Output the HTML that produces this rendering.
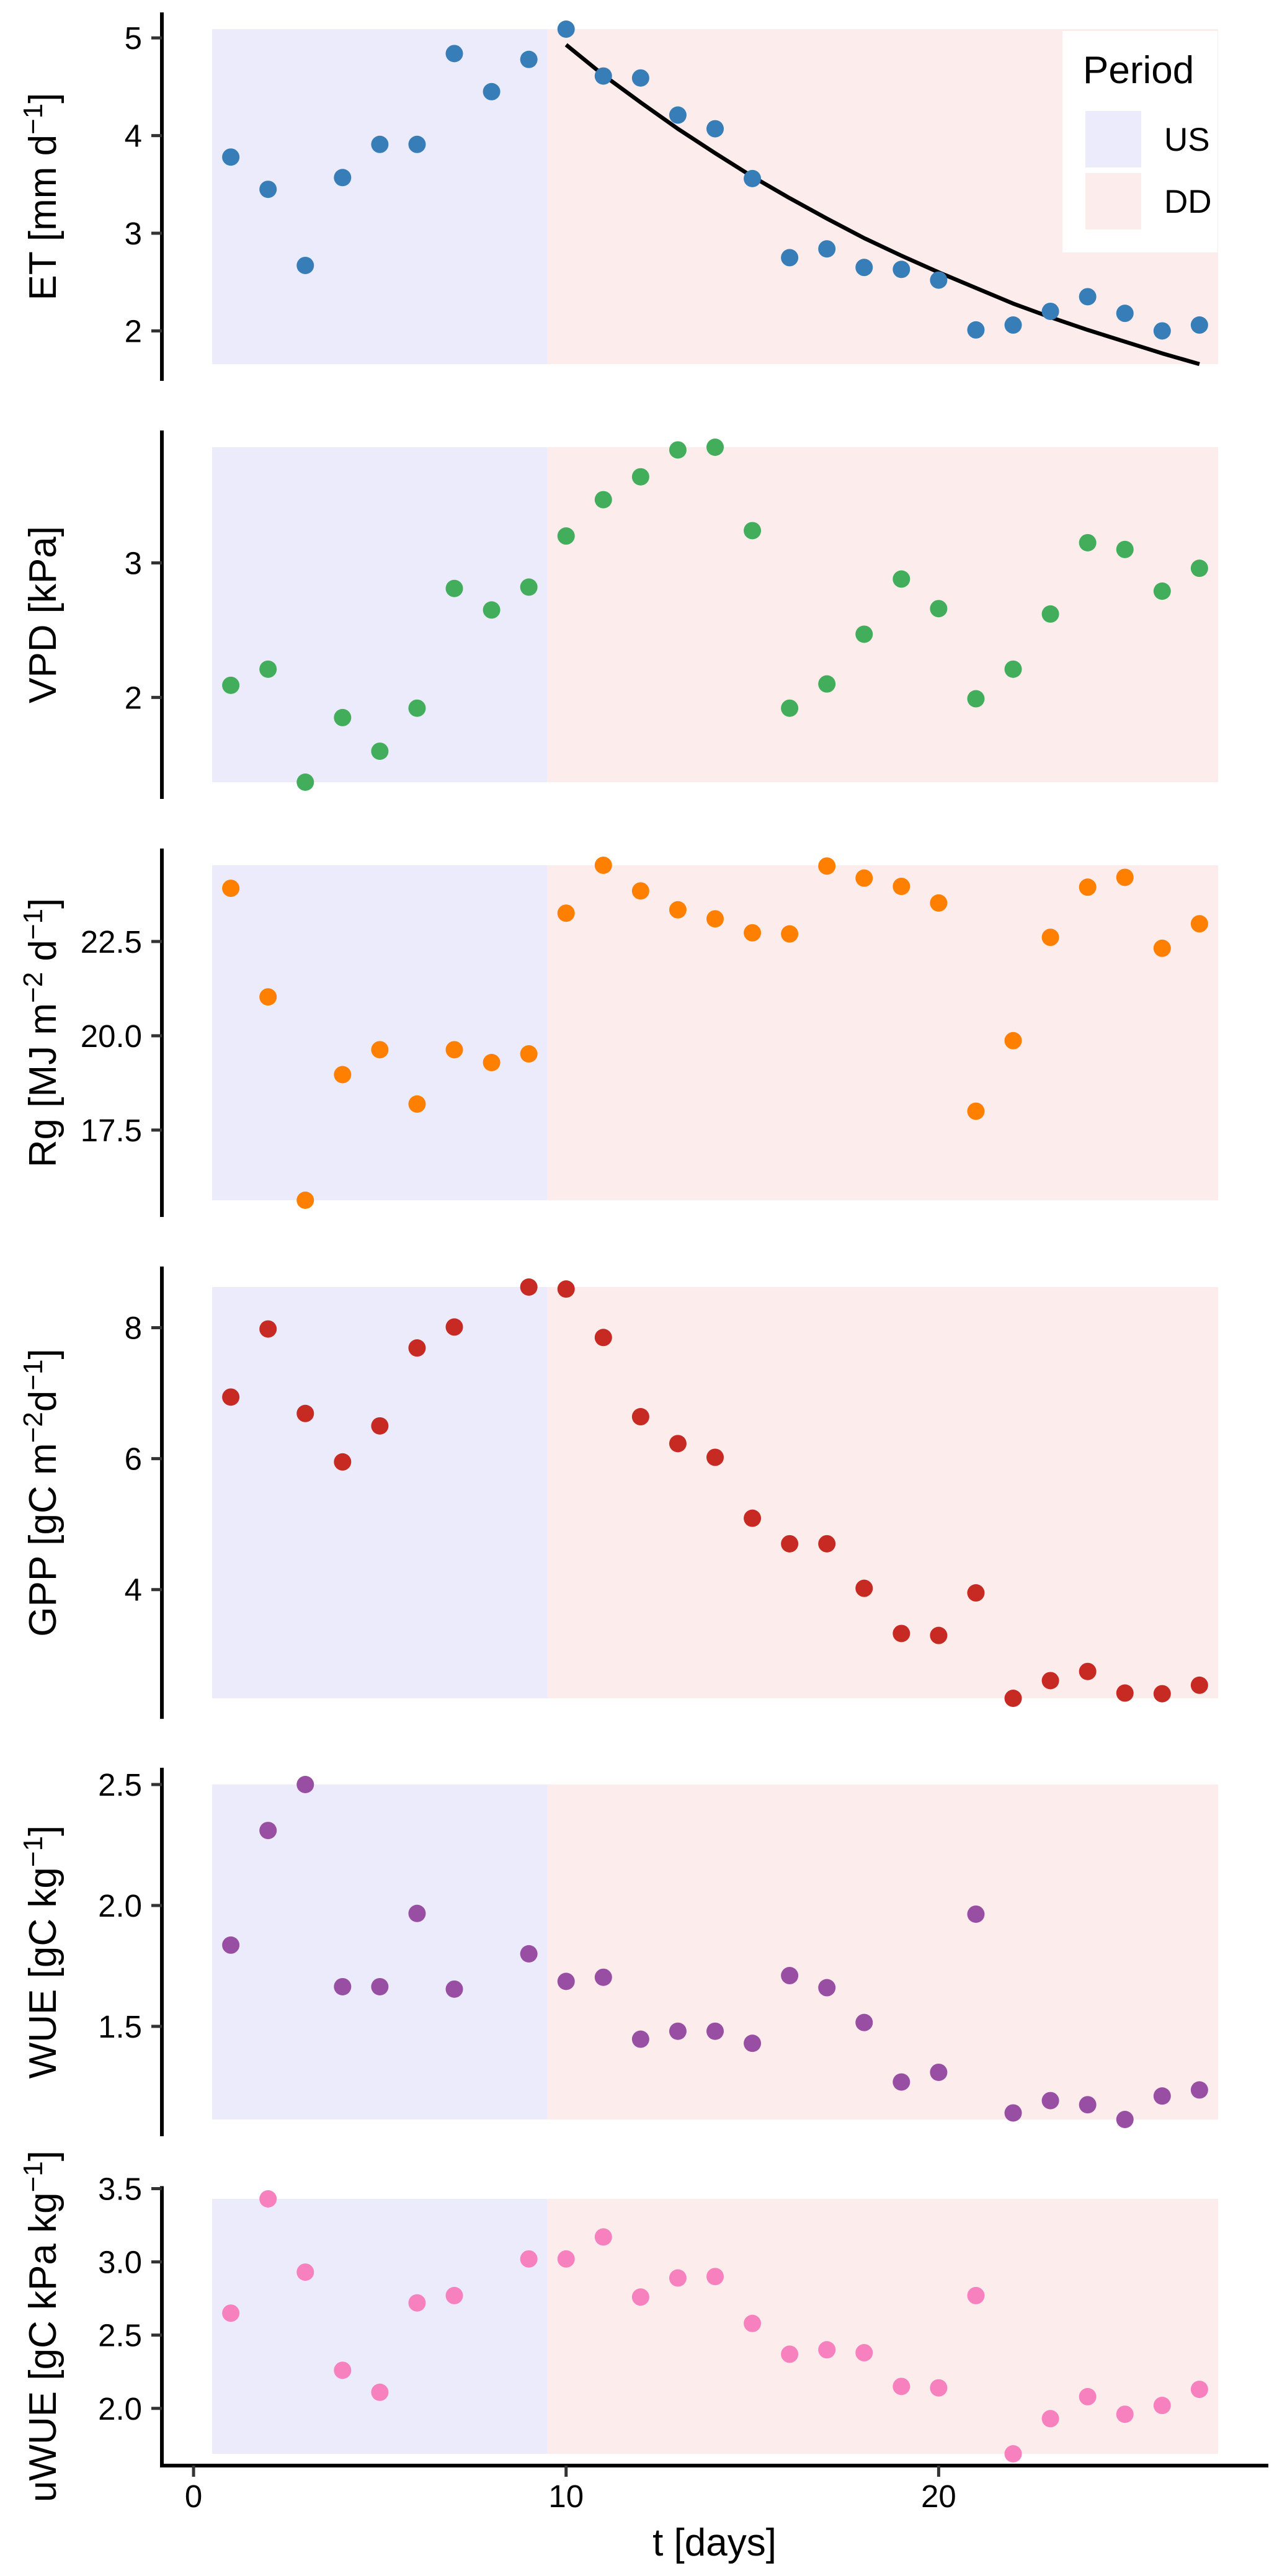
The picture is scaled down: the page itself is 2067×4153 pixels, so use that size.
<!DOCTYPE html>
<html><head><meta charset="utf-8">
<style>
html,body{margin:0;padding:0;background:#fff;}
svg{display:block;font-family:"Liberation Sans",Arial,sans-serif;}
</style></head>
<body>
<svg id="chart" width="2067" height="4153" viewBox="0 0 2067 4153" xmlns="http://www.w3.org/2000/svg"></svg>
<script>
const days = [1,2,3,4,5,6,7,8,9,10,11,12,13,14,15,16,17,18,19,20,21,22,23,24,25,26,27];
const etVals = [3.78,3.45,2.67,3.57,3.91,3.91,4.84,4.45,4.78,5.09,4.61,4.59,4.21,4.07,3.56,2.75,2.84,2.65,2.63,2.52,2.01,2.06,2.20,2.35,2.18,2.00,2.06];
const etFitDays = [10,11,12,13,14,15,16,17,18,19,20,21,22,23,24,25,26,27];
const etFitVals = [4.93,4.62,4.34,4.07,3.82,3.58,3.36,3.15,2.95,2.77,2.60,2.44,2.28,2.14,2.01,1.89,1.77,1.66];
const vpdVals = [2.09,2.21,1.37,1.85,1.60,1.92,2.81,2.65,2.82,3.20,3.47,3.64,3.84,3.86,3.24,1.92,2.10,2.47,2.88,2.66,1.99,2.21,2.62,3.15,3.10,2.79,2.96];
const rgVals = [23.91,21.03,15.64,18.97,19.63,18.19,19.63,19.29,19.52,23.25,24.52,23.84,23.34,23.10,22.73,22.70,24.50,24.18,23.96,23.52,18.00,19.87,22.61,23.94,24.20,22.32,22.97];
const gppVals = [6.94,7.98,6.69,5.95,6.50,7.69,8.01,null,8.62,8.59,7.85,6.64,6.23,6.02,5.09,4.70,4.70,4.02,3.33,3.30,3.95,2.34,2.61,2.75,2.42,2.41,2.54];
const wueVals = [1.836,2.31,2.50,1.664,1.664,1.967,1.654,null,1.80,1.686,1.703,1.447,1.48,1.48,1.43,1.71,1.66,1.516,1.27,1.31,1.964,1.142,1.193,1.176,1.115,1.212,1.237];
const uwueVals = [2.65,3.43,2.93,2.26,2.11,2.72,2.77,null,3.02,3.02,3.17,2.76,2.89,2.90,2.58,2.37,2.40,2.38,2.15,2.14,2.77,1.69,1.93,2.08,1.96,2.02,2.13];
const etTicks = [2,3,4,5];
const etTickLabels = ["2","3","4","5"];
const vpdTicks = [2,3];
const vpdTickLabels = ["2","3"];
const rgTicks = [17.5,20,22.5];
const rgTickLabels = ["17.5","20.0","22.5"];
const gppTicks = [4,6,8];
const gppTickLabels = ["4","6","8"];
const wueTicks = [1.5,2.0,2.5];
const wueTickLabels = ["1.5","2.0","2.5"];
const uwueTicks = [2.0,2.5,3.0,3.5];
const uwueTickLabels = ["2.0","2.5","3.0","3.5"];
const xTicks = [0,10,20];
const xTickLabels = ["0","10","20"];
const periodNames = ["US","DD"];
const periodStart = [0.5,9.5];
const periodEnd = [9.5,27.5];

const NS = "http://www.w3.org/2000/svg";
const svg = document.getElementById("chart");
function mk(tag, attrs, parent){
  const e = document.createElementNS(NS, tag);
  for (const k in attrs) e.setAttribute(k, attrs[k]);
  (parent||svg).appendChild(e);
  return e;
}
const periodFill = ["#EBEBFB","#FDECEC"];
// x axis: data range plus 5% expansion
const xMin = Math.min(...periodStart), xMax = Math.max(...periodEnd);
const xPad = (xMax - xMin) * 0.05;
const X0 = 261, X1 = 2045;
function xs(d){ return X0 + (d - (xMin - xPad)) / ((xMax + xPad) - (xMin - xPad)) * (X1 - X0); }

const panels = [
  {key:"et", vals:etVals, extra:etFitVals, color:"#377EB8", ticks:etTicks, labels:etTickLabels, top:47, bot:587, title:[["ET [mm d",0],["−1",1],["]",0]]},
  {key:"vpd", vals:vpdVals, extra:[], color:"#42AD5B", ticks:vpdTicks, labels:vpdTickLabels, top:721, bot:1261, title:[["VPD [kPa]",0]]},
  {key:"rg", vals:rgVals, extra:[], color:"#FF7F00", ticks:rgTicks, labels:rgTickLabels, top:1395, bot:1935, title:[["Rg [MJ m",0],["−2",1],[" d",0],["−1",1],["]",0]]},
  {key:"gpp", vals:gppVals, extra:[], color:"#C62A23", ticks:gppTicks, labels:gppTickLabels, top:2075, bot:2738, title:[["GPP [gC m",0],["−2",1],["d",0],["−1",1],["]",0]]},
  {key:"wue", vals:wueVals, extra:[], color:"#984EA3", ticks:wueTicks, labels:wueTickLabels, top:2877, bot:3417, title:[["WUE [gC kg",0],["−1",1],["]",0]]},
  {key:"uwue", vals:uwueVals, extra:[], color:"#F781BF", ticks:uwueTicks, labels:uwueTickLabels, top:3545, bot:3956, title:[["uWUE [gC kPa kg",0],["−1",1],["]",0]]}
];

panels.forEach((p, pi) => {
  const g = mk("g", {});
  
  
  const all = p.vals.concat(p.extra).filter(v => v !== null);
  const vMin = Math.min(...all), vMax = Math.max(...all);
  const ys = v => p.bot - (v - vMin) / (vMax - vMin) * (p.bot - p.top);
  const pad = (p.bot - p.top) * 0.05;
  // period backgrounds
  periodNames.forEach((nm, i) => {
    const r = mk("rect", {x: xs(periodStart[i]), y: p.top, width: xs(periodEnd[i]) - xs(periodStart[i]), height: p.bot - p.top, fill: periodFill[i]}, g);
    
    
  });
  // y axis line
  const isLast = pi === panels.length - 1;
  const ax = mk("line", {x1: X0, y1: p.top - pad, x2: X0, y2: isLast ? 3978 : p.bot + pad, stroke: "#000", "stroke-width": 6}, g);
  
  
  // ticks
  p.ticks.forEach((t, i) => {
    const y = ys(t);
    const tk = mk("line", {x1: X0 - 17, y1: y, x2: X0, y2: y, stroke: "#333", "stroke-width": 5}, g);
    
    
    const tl = mk("text", {x: 229, y: y + 18, "text-anchor": "end", "font-size": 51, fill: "#000"}, g);
    tl.textContent = p.labels[i];
    
    
  });
  // title
  const cy = (p.top + p.bot) / 2;
  const tt = mk("text", {x: 0, y: 0, "text-anchor": "middle", "font-size": 62, fill: "#000", transform: "translate(90," + cy + ") rotate(-90)"}, g);
  
  
  let up = false;
  p.title.forEach(([txt, sup]) => {
    const ts = mk("tspan", {}, tt);
    if (sup && !up) { ts.setAttribute("dy", -22); ts.setAttribute("font-size", 44); up = true; }
    else if (sup) { ts.setAttribute("font-size", 44); }
    else if (!sup && up) { ts.setAttribute("dy", 22); up = false; }
    ts.textContent = txt;
  });
  // fit curve
  if (p.key === "et") {
    const d = etFitDays.map((dd, i) => (i ? "L" : "M") + xs(dd).toFixed(1) + "," + ys(etFitVals[i]).toFixed(1)).join(" ");
    const path = mk("path", {d: d, fill: "none", stroke: "#000", "stroke-width": 6.5, "stroke-linejoin": "round"}, g);
    
    
  }
  // points
  p.vals.forEach((v, i) => {
    if (v === null) return;
    const c = mk("circle", {cx: xs(days[i]), cy: ys(v), r: 14, fill: p.color}, g);
    
    
  });
});

// x axis
const xa = mk("line", {x1: X0 - 3, y1: 3975, x2: X1, y2: 3975, stroke: "#000", "stroke-width": 6});


xTicks.forEach((t, i) => {
  const tk = mk("line", {x1: xs(t), y1: 3975, x2: xs(t), y2: 3993, stroke: "#333", "stroke-width": 5});
  
  
  const tl = mk("text", {x: xs(t), y: 4042, "text-anchor": "middle", "font-size": 51, fill: "#000"});
  tl.textContent = xTickLabels[i];
  
  
});
const xt = mk("text", {x: 1152, y: 4120, "text-anchor": "middle", "font-size": 62, fill: "#000"});
xt.textContent = "t [days]";



// legend
const lg = mk("g", {});


mk("rect", {x: 1713, y: 50, width: 250, height: 357, fill: "#fff"}, lg);
const lt = mk("text", {x: 1746, y: 134, "font-size": 62, fill: "#000"}, lg);
lt.textContent = "Period";


periodNames.forEach((nm, i) => {
  const y0 = 179 + i * 100;
  const k = mk("rect", {x: 1750, y: y0, width: 90, height: 91, fill: periodFill[i]}, lg);
  
  
  const t = mk("text", {x: 1877, y: y0 + 64, "font-size": 53, fill: "#000"}, lg);
  t.textContent = nm;
  
  
});
</script>
</body></html>
